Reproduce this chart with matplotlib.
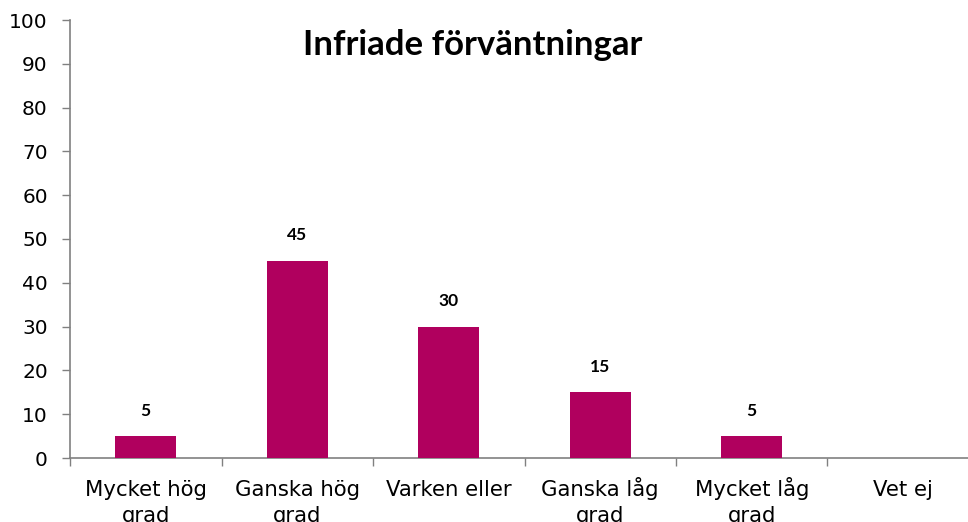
import matplotlib
matplotlib.use("Agg")
import matplotlib.pyplot as plt
import matplotlib.transforms as mtransforms
import numpy as np

categories = ["Mycket hög\ngrad", "Ganska hög\ngrad", "Varken eller", "Ganska låg\ngrad", "Mycket låg\ngrad", "Vet ej"]
values = [5, 45, 30, 15, 5, 0]
title = "Infriade förväntningar"

W, H = 968, 522
fig = plt.figure(figsize=(W / 100, H / 100), dpi=100)
x0, x1 = 70, 979
y0, y1 = 458, 20
ax = fig.add_axes([x0 / W, (H - y0) / H, (x1 - x0) / W, (y0 - y1) / H])

color = "#B0005E"
x = np.arange(len(categories))
ax.bar(x, values, width=0.4, color=color, zorder=3)
for xi, v in zip(x, values):
    if v > 0:
        ax.text(xi, v + 4.0, str(v), ha="center", va="bottom", fontsize=12.5,
                fontweight="bold", family="Lato", color="black")

ax.set_xlim(-0.5, len(categories) - 0.5)
ax.set_ylim(0, 100)
ax.set_yticks(np.arange(0, 101, 10))
ax.set_xticks(x)
ax.set_xticklabels([])
ax.set_xticks(np.arange(-0.5, len(categories), 1), minor=True)
ax.tick_params(axis="x", which="major", length=0)
ax.tick_params(axis="x", which="minor", length=6, width=1, color="#808080", direction="out")
ax.tick_params(axis="y", length=6, width=1, color="#808080", direction="out", pad=10, labelsize=14.5)

for xi, lab in zip(x, categories):
    for k, line in enumerate(lab.split("\n")):
        tr = mtransforms.offset_copy(ax.get_xaxis_transform(), fig=fig,
                                     y=-(38 + 26 * k), units="dots")
        ax.text(xi, 0, line, transform=tr, ha="center", va="baseline",
                fontsize=15.3, clip_on=False)

for s in ["top", "right"]:
    ax.spines[s].set_visible(False)
for s in ["left", "bottom"]:
    ax.spines[s].set_color("#808080")
    ax.spines[s].set_linewidth(1.2)

fig.text(473 / W, 1 - 45 / H, title, ha="center", va="center", fontsize=25,
         fontweight="bold", family="Lato")

fig.savefig("out.png", dpi=100)
